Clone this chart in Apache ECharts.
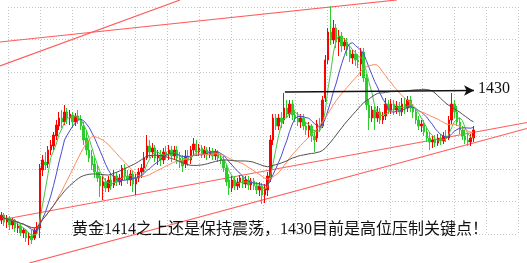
<!DOCTYPE html>
<html><head><meta charset="utf-8">
<script src="https://cdn.jsdelivr.net/npm/echarts@6/dist/echarts.min.js"></script>
<style>html,body{margin:0;padding:0;background:#fff}#c{width:527px;height:263px}</style>
</head><body><div id="c"></div>
<script>
const slotCount = 192;
const categories = Array.from({length: slotCount}, (_, i) => 'K' + (i + 1));
const opens = [
1404,1405,1403.6,1404.4,1403,1404,1402.4,1402.8,1401.4,1402,
1400.4,1400.8,1400.4,1402,1402.4,1414,1415.6,1415.2,1418,1418.8,
1420.8,1422.8,1424.4,1423.6,1425.6,1424.4,1425,1423.6,1424.8,1424,
1422.8,1420.4,1418,1416.8,1415.2,1413.6,1412.8,1410.8,1411.6,1410.4,
1412,1411,1412.8,1411.6,1412,1414.4,1412.8,1412,1413.2,1411.2,
1412.4,1413.6,1414.4,1416.4,1418.8,1417.6,1418.4,1416.4,1417,1416,
1417.6,1417,1418,1416.8,1418,1416.4,1416,1415.2,1416.8,1416,
1418,1419.2,1417.6,1418.4,1417.2,1418,1417,1417.8,1416.8,1417.6,
1416.4,1416,1414.4,1412,1410.4,1412,1410.8,1411.6,1412.4,1411.2,
1412,1411,1411.8,1410.8,1410,1410.8,1409,1410,1412.4,1420,
1424.4,1422.8,1424.4,1424,1426.4,1425.2,1427.2,1425,1424.4,1423.6,
1424.4,1422.8,1422,1422.8,1420.8,1420.4,1423.2,1422.8,1428.4,1436,
1441.6,1440,1442.4,1439.6,1440.8,1438.8,1439.6,1438,1436.4,1437.2,
1436,1435.2,1437.6,1432.4,1427,1424.4,1426,1424.4,1425.6,1424,
1424.8,1427.2,1426,1427.2,1426,1426.8,1425.6,1427.2,1426.4,1428,
1426.4,1425.6,1424,1422.8,1423.2,1421.6,1420.4,1419.6,1420,1419.4,
1420.4,1419.8,1420.8,1420.4,1424,1427.2,1425.6,1423.6,1422,1420.8,
1420,1419.6,1420.4];
const closes = [
1405,1403.6,1404.4,1403,1404,1402.4,1402.8,1401.4,1402,1400.4,
1400.8,1400,1402,1402.8,1414.4,1416,1415,1418,1419,1421,
1423,1424.4,1423.6,1425.6,1424.4,1425.2,1423.6,1424.8,1424,1422.8,
1420,1418,1416.4,1415,1413.6,1412.4,1410.8,1411.6,1410.4,1412,
1410.8,1412.8,1411.6,1412.4,1414.4,1412.8,1412,1413.2,1411.2,1412.4,
1413.6,1414.4,1416.4,1418.8,1417.6,1418.4,1416.4,1417,1416,1417.6,
1417,1418,1416.8,1418,1416.4,1415.6,1414.8,1416.8,1416,1418,
1419.2,1417.6,1418.4,1417.2,1418,1417,1417.8,1416.8,1417.6,1416.4,
1416,1414.4,1411.6,1410.4,1412,1410.8,1411.6,1412.4,1411.2,1412,
1411,1411.8,1410.8,1410,1410.8,1409,1410.4,1412.8,1420,1424.4,
1422.8,1424.4,1423.6,1426.4,1425.2,1427.2,1425,1424.4,1423.6,1424.4,
1422.8,1422,1422.8,1420.8,1420,1423.2,1422.4,1428,1436,1441.6,
1440,1442.4,1439.6,1440.8,1438.8,1439.6,1438,1436.4,1437.2,1436,
1435.6,1437.6,1432.4,1427,1424.4,1426,1424.4,1425.6,1424,1424.8,
1427.2,1426,1427.2,1426,1426.8,1425.6,1427.2,1426.4,1428,1426.4,
1425.6,1424,1422.8,1423.2,1421.6,1420.4,1419.6,1420,1419.4,1420.4,
1419.8,1420.8,1420.4,1424,1427.2,1425.6,1423.6,1422,1420.8,1420,
1419.6,1420.4,1422];
const lows = [
1403.2,1402.8,1402.4,1402,1402.2,1401.6,1401.4,1400.8,1400.4,1399.6,
1399,1399.2,1400,1401.2,1400.4,1412.8,1414,1414.4,1417,1418,
1420,1422,1422.4,1423,1423.2,1423,1422.4,1422.8,1423.2,1422,
1419,1417,1415.6,1414,1412.4,1411.6,1408.6,1408,1409.6,1409.6,
1410,1410.4,1410.8,1411,1410.8,1412,1411.2,1410.8,1409.6,1409,
1411.6,1412.4,1413.6,1416,1416.4,1416.4,1415.6,1415,1414.8,1415.2,
1416,1416,1415.6,1416,1415.2,1414.4,1413.6,1414.4,1414.8,1415.2,
1416.8,1416.8,1416.8,1416.4,1416.4,1416,1416.4,1416,1416,1415.6,
1415.2,1413.6,1410.8,1409,1409.6,1410,1410,1410.4,1410.4,1410.4,
1410,1410,1410,1409.2,1408.8,1407.2,1407.4,1408.8,1411.6,1419,
1422,1422,1422.4,1423.2,1424.4,1424.4,1424,1423.6,1422.8,1422.4,
1422,1421,1420.4,1419.6,1417.6,1419.6,1421.6,1422.4,1427.6,1435.2,
1439,1439.2,1438.4,1436.8,1437.6,1438,1436.8,1435.6,1435.2,1434.8,
1434.4,1432.8,1431.6,1426,1422,1423.6,1422,1423.6,1423.2,1423.2,
1424,1425.2,1425.2,1425,1425.2,1424.8,1424.8,1425.2,1425.6,1425.6,
1424.4,1423.2,1422,1421.6,1420.8,1419.6,1418,1418.4,1418.6,1418.8,
1419,1419.2,1419.6,1420,1423.2,1424.4,1422.8,1421.2,1420,1419.2,
1418.8,1418.8,1419.6];
const highs = [
1405.6,1405.4,1405,1404.8,1404.4,1404.2,1403.6,1403.2,1402.4,1402.2,
1401.6,1402,1402.4,1403.6,1415.2,1417,1417.6,1418.8,1420,1421.6,
1424,1425.6,1426,1427,1426.4,1426,1425.6,1425.4,1426,1425,
1423.6,1422,1420,1418,1416.4,1415,1413.6,1412.8,1412.4,1412.8,
1413,1414,1413.6,1413.2,1415,1415.2,1414,1414,1414,1413.2,
1414.4,1415.2,1417.6,1421,1420,1419.4,1419,1418,1418,1418.4,
1418.8,1419,1418.8,1418.8,1418.8,1417.6,1417,1418,1418,1418.8,
1420.4,1420,1419.2,1419,1418.8,1418.6,1418.6,1418.4,1418.2,1418,
1417.2,1416.8,1415,1413.2,1412.8,1412.8,1412.4,1413,1412.8,1412.8,
1412.8,1412.4,1412.4,1411.6,1411.6,1411.4,1411.2,1413.6,1421,1425.2,
1425.2,1425.2,1425.6,1429.4,1428,1428,1428,1426,1425.6,1425.2,
1425.2,1423.6,1423.6,1423.2,1422,1424,1424.4,1428.8,1437,1442.4,
1446.8,1444,1443.2,1442,1441.6,1440.4,1440.4,1438.8,1438,1438,
1437.2,1438.4,1438.4,1433.2,1428,1426.8,1426.8,1426.8,1426.4,1425.6,
1428.4,1428,1428.2,1428,1427.8,1427.6,1428.4,1428.4,1428.8,1428.8,
1427.2,1426.4,1424.8,1424,1424,1422.4,1421.6,1420.8,1421,1421.2,
1421.2,1421.6,1422,1424.8,1429.4,1428,1426.8,1424.4,1422.8,1422,
1421.2,1421.2,1422.8];
const maPeriods = [5, 10, 20, 40];
const maColors = ['#44c844', '#4b4bd2', '#ff8a5c', '#505050'];
// trend lines: [slot, price] endpoints
const trendLines = [
  [[0, 1434.8], [65.6, 1448]],
  [[0, 1439.6], [144.6, 1448]],
  [[0, 1404], [192, 1423.5]],
  [[10.67, 1395.4], [192, 1422.3]]
];
const resistance = [[103.8, 1429.6], [172.7, 1429.9]];
const resistanceLabel = '1430';
const caption = '黄金1414之上还是保持震荡，1430目前是高位压制关键点！';

function ma(n) {
  return closes.map((_, i) => {
    const s = Math.max(0, i - n + 1);
    let sum = 0;
    for (let j = s; j <= i; j++) sum += closes[j];
    return +(sum / (i - s + 1)).toFixed(2);
  });
}
const kData = opens.map((o, i) => [o, closes[i], lows[i], highs[i]]);

const chart = echarts.init(document.getElementById('c'), null, {renderer: 'canvas'});
const gridLine = {show: true, lineStyle: {color: '#c4c4c4', type: [1, 2], width: 1}};
const series = [
  {type: 'line', xAxisIndex: 2, yAxisIndex: 1, data: [], silent: true}
];
trendLines.forEach(t => series.push({
  type: 'line', xAxisIndex: 1, yAxisIndex: 0, data: t, showSymbol: false, silent: true,
  lineStyle: {color: '#ff5c5c', width: 1.2}, z: 3
}));
series.push({
  type: 'candlestick', xAxisIndex: 0, yAxisIndex: 0, data: kData, barWidth: '72%',
  itemStyle: {color: '#ff0000', color0: '#2ccc2c', borderColor: '#ff0000', borderColor0: '#2ccc2c', borderWidth: 1},
  z: 4
});
maPeriods.forEach((p, k) => series.push({
  type: 'line', xAxisIndex: 0, yAxisIndex: 0, data: ma(p), showSymbol: false, silent: true,
  lineStyle: {color: maColors[k], width: 1}, z: 5
}));
series.push({
  type: 'line', xAxisIndex: 1, yAxisIndex: 0, silent: true, z: 6,
  data: [{value: resistance[0], symbol: 'none'}, {value: resistance[1], symbol: 'arrow', symbolSize: [8, 10], symbolRotate: -90}],
  showSymbol: true, showAllSymbol: true,
  lineStyle: {color: '#111', width: 1.6}, itemStyle: {color: '#111'}
});

chart.setOption({
  animation: false,
  backgroundColor: '#fff',
  grid: [
    {left: 0, right: 0, top: 0, bottom: 0},
    {left: 8, width: 510, top: 7, height: 227}
  ],
  xAxis: [
    {type: 'category', gridIndex: 0, data: categories, boundaryGap: true, show: false},
    {type: 'value', gridIndex: 0, min: 0, max: slotCount, show: false},
    {type: 'value', gridIndex: 1, min: 0, max: 16, interval: 1, axisLine: {show: false}, axisTick: {show: false}, axisLabel: {show: false}, splitLine: gridLine}
  ],
  yAxis: [
    {type: 'value', gridIndex: 0, min: 1395.4, max: 1448, show: false},
    {type: 'value', gridIndex: 1, min: 0, max: 7, interval: 1, axisLine: {show: false}, axisTick: {show: false}, axisLabel: {show: false}, splitLine: gridLine}
  ],
  series: series,
  graphic: [
    {type: 'text', x: 478, y: 89, z: 10, style: {text: resistanceLabel, font: '16px "Liberation Serif"', fill: '#111', verticalAlign: 'middle', align: 'left'}},
    {type: 'text', x: 72, y: 230, z: 10, style: {text: caption, font: '16px "Liberation Serif", "Noto Sans CJK SC"', fill: '#111', verticalAlign: 'middle', align: 'left'}}
  ]
});
</script></body></html>
